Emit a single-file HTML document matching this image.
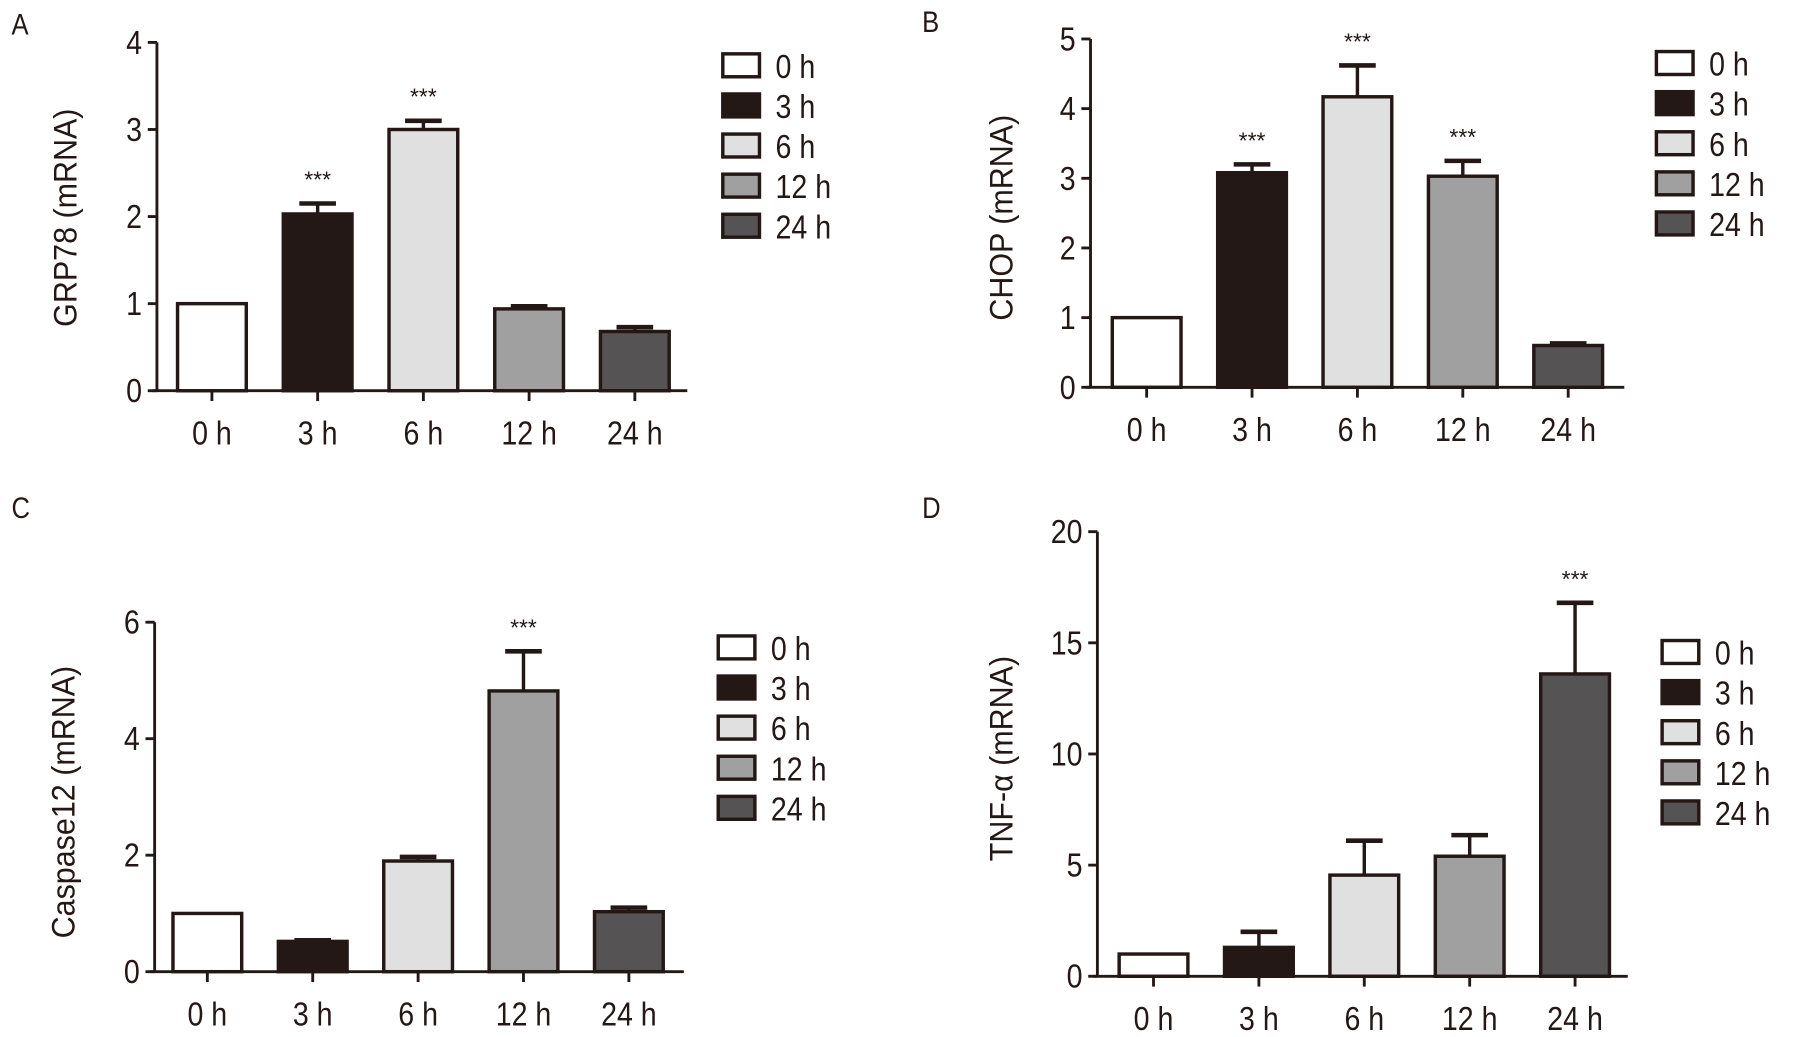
<!DOCTYPE html>
<html><head><meta charset="utf-8"><style>
html,body{margin:0;padding:0;background:#fff;}
svg{display:block;}
text{font-family:"Liberation Sans",sans-serif;fill:#231815;}
</style></head><body>
<svg id="fig" width="1795" height="1037" viewBox="0 0 1567 905" preserveAspectRatio="none" xmlns="http://www.w3.org/2000/svg"></svg>
<script>
const categories = ["0 h","3 h","6 h","12 h","24 h"];
const colors = ["#ffffff","#231815","#e0e0e0","#a0a0a0","#565354"];
const grp78Values = [1, 2.03, 3.0, 0.94, 0.68];
const grp78Errors = [0, 0.12, 0.1, 0.03, 0.05];
const grp78Stars = [false, true, true, false, false];
const grp78Ticks = [0,1,2,3,4];
const chopValues = [1, 3.08, 4.17, 3.03, 0.6];
const chopErrors = [0, 0.12, 0.45, 0.22, 0.03];
const chopStars = [false, true, true, true, false];
const chopTicks = [0,1,2,3,4,5];
const casp12Values = [1, 0.52, 1.9, 4.82, 1.03];
const casp12Errors = [0, 0.02, 0.07, 0.68, 0.07];
const casp12Stars = [false, false, false, true, false];
const casp12Ticks = [0,2,4,6];
const tnfValues = [1, 1.3, 4.55, 5.4, 13.6];
const tnfErrors = [0, 0.7, 1.55, 0.95, 3.2];
const tnfStars = [false, false, false, false, true];
const tnfTicks = [0,5,10,15,20];

const NS = "http://www.w3.org/2000/svg";
const svg = document.getElementById('fig');
function mk(tag, attrs, parent){const e=document.createElementNS(NS,tag);for(const k in attrs)e.setAttribute(k,attrs[k]);(parent||svg).appendChild(e);return e;}
function txt(parent, x, y, size, anchor, content, sx){
  const t = mk('text',{x:0,y:0,'font-size':size,'text-anchor':anchor,transform:`translate(${x},${y}) scale(${sx||0.86},1)`},parent);
  t.textContent = content;
  return t;
}

function panel(cfg, values, errors, stars, ticks){
  const g = mk('g',{});
  
  
  const max = ticks[ticks.length-1];
  const y = v => cfg.y0 - (v/max)*(cfg.y0-cfg.yTop);
  const x = i => cfg.x0c + i*cfg.step;
  const lbl = txt(g, cfg.lx, cfg.ly, 26, 'start', cfg.letter);
  
  
  const ya = mk('line',{x1:cfg.ax,y1:cfg.yTop,x2:cfg.ax,y2:cfg.y0,stroke:'#231815','stroke-width':2.5},g);
  
  
  ticks.forEach(t=>{
    mk('line',{x1:cfg.ax-8,y1:y(t),x2:cfg.ax,y2:y(t),stroke:'#231815','stroke-width':2.5},g);
    const tt = txt(g, cfg.ax-13, y(t)+10, 29, 'end', t);
    
    
  });
  const xa = mk('line',{x1:cfg.ax-4,y1:cfg.y0,x2:cfg.xEnd,y2:cfg.y0,stroke:'#231815','stroke-width':2.5},g);
  
  
  const yt = mk('text',{x:0,y:0,'font-size':28,'text-anchor':'middle',transform:`translate(${cfg.ytx},${cfg.yty}) rotate(-90) scale(0.95,1)`},g);
  yt.textContent = cfg.ytitle;
  
  
  const bw = 60;
  values.forEach((v,i)=>{
    const cx = x(i);
    if(errors[i]>0){
      mk('line',{x1:cx,y1:y(v),x2:cx,y2:y(v+errors[i]),stroke:'#231815','stroke-width':3},g);
      mk('line',{x1:cx-16,y1:y(v+errors[i]),x2:cx+16,y2:y(v+errors[i]),stroke:'#231815','stroke-width':4},g);
    }
    const r = mk('rect',{x:cx-bw/2,y:y(v),width:bw,height:cfg.y0-y(v),fill:colors[i],stroke:'#231815','stroke-width':3},g);
    
    
    mk('line',{x1:cx,y1:cfg.y0,x2:cx,y2:cfg.y0+9,stroke:'#231815','stroke-width':2.5},g);
    const xl = txt(g, cx, cfg.y0+47, 29, 'middle', categories[i]);
    
    
    if(stars[i]){
      const s = mk('text',{x:cx,y:y(v+errors[i])-14,'font-size':20,'text-anchor':'middle'},g); s.textContent='***';
      
      
    }
  });
  categories.forEach((c,i)=>{
    const ly = cfg.legY + i*35;
    const lr = mk('rect',{x:cfg.legX,y:ly-10,width:32,height:20,fill:colors[i],stroke:'#231815','stroke-width':3},g);
    
    
    const lt = txt(g, cfg.legX+46, ly+11, 29, 'start', c);
    
    
  });
}

panel({name:'panel-a-grp78',letter:'A',lx:10,ly:30,ax:137,yTop:37,y0:341,x0c:185,step:92.3,xEnd:600,ytitle:'GRP78  (mRNA)',ytx:67,yty:190,legX:631,legY:57},grp78Values,grp78Errors,grp78Stars,grp78Ticks);
panel({name:'panel-b-chop',letter:'B',lx:805,ly:28,ax:952,yTop:34,y0:338,x0c:1001,step:92,xEnd:1418,ytitle:'CHOP (mRNA)',ytx:884,yty:190,legX:1446,legY:55},chopValues,chopErrors,chopStars,chopTicks);
panel({name:'panel-c-caspase12',letter:'C',lx:10,ly:452,ax:135,yTop:543,y0:848,x0c:181,step:92,xEnd:597,ytitle:'Caspase12 (mRNA)',ytx:65,yty:700,legX:627,legY:565},casp12Values,casp12Errors,casp12Stars,casp12Ticks);
panel({name:'panel-d-tnf-alpha',letter:'D',lx:805,ly:452,ax:958,yTop:464,y0:852,x0c:1007,step:92,xEnd:1421,ytitle:'TNF-α (mRNA)',ytx:884,yty:662,legX:1451,legY:569},tnfValues,tnfErrors,tnfStars,tnfTicks);
</script>
</body></html>
